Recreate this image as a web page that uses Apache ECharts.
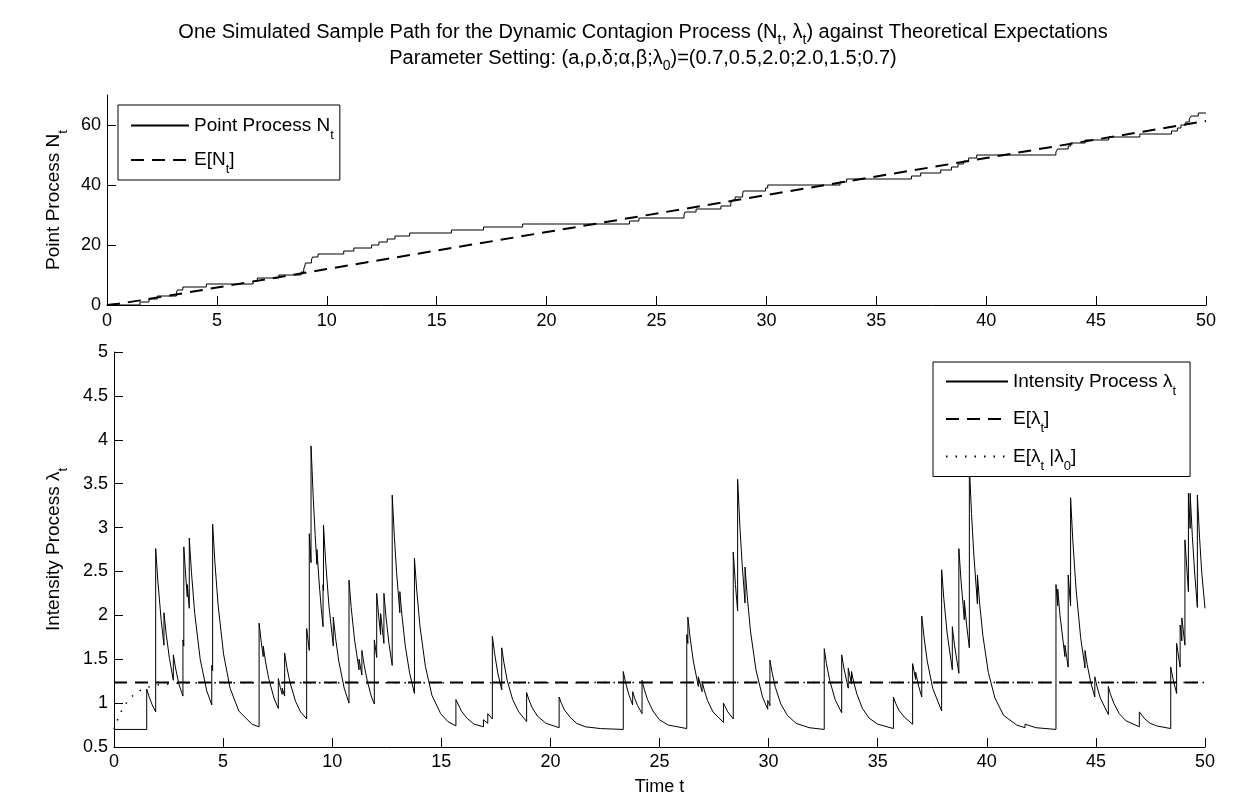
<!DOCTYPE html>
<html>
<head>
<meta charset="utf-8">
<title>Dynamic Contagion Process</title>
<script src="https://cdn.jsdelivr.net/npm/echarts@6.0.0/dist/echarts.min.js"></script>
<style>
  html, body { margin: 0; padding: 0; background: #fff; }
  #chart { width: 1242px; height: 795px; }
</style>
</head>
<body>
<div id="chart"></div>
<script>
// point process N_t: [jump time, count after the jump]
var countPath = [
  [0, 0], [1.50, 1], [1.91, 2], [2.29, 3], [3.16, 4], [3.20, 5], [3.45, 6], [4.52, 7],
  [6.65, 8], [6.84, 9], [7.82, 10], [8.83, 11], [8.95, 12], [9.00, 13], [9.03, 14],
  [9.30, 15], [9.35, 16], [9.60, 17], [10.77, 18], [11.23, 19], [12.04, 20], [12.37, 21],
  [12.75, 22], [13.10, 23], [13.77, 24], [15.67, 25], [17.13, 26], [18.91, 27], [23.77, 28],
  [24.20, 29], [26.25, 30], [26.30, 31], [26.80, 32], [27.93, 33], [28.38, 34], [28.45, 35],
  [28.58, 36], [28.92, 37], [28.95, 38], [29.96, 39], [30.06, 40], [33.35, 41], [33.65, 42],
  [36.60, 43], [37.02, 44], [37.93, 45], [38.42, 46], [38.72, 47], [38.97, 48], [39.20, 49],
  [39.57, 50], [43.17, 51], [43.25, 52], [43.73, 53], [43.84, 54], [44.50, 55], [45.57, 56],
  [46.99, 57], [48.43, 58], [48.70, 59], [48.86, 60], [49.08, 61], [49.24, 62], [49.32, 63],
  [49.65, 64], [50, 64]
];

// E[N_t]
var countMean = [
  [0, 0], [0.5, 0.43], [1, 0.96], [1.5, 1.54], [2, 2.13], [3, 3.35], [4, 4.58], [5, 5.81],
  [10, 11.98], [20, 24.32], [30, 36.66], [40, 49.0], [50, 61.34]
];

// intensity process lambda_t (jumps are two points at the same time)
var intensityPath = [
  [0, 0.70], [1.50, 0.70],
  [1.50, 1.16], [1.60, 1.08], [1.75, 0.98], [1.91, 0.90],
  [1.91, 2.76], [2.01, 2.39], [2.16, 1.95], [2.29, 1.66],
  [2.29, 2.03], [2.39, 1.79], [2.54, 1.51], [2.72, 1.26],
  [2.72, 1.55], [2.82, 1.40], [2.97, 1.22], [3.16, 1.08],
  [3.16, 1.72], [3.20, 1.65],
  [3.20, 2.78], [3.28, 2.47], [3.36, 2.21],
  [3.36, 2.35], [3.45, 2.08],
  [3.45, 2.88], [3.55, 2.49], [3.70, 2.02], [3.95, 1.50], [4.25, 1.14], [4.48, 0.98],
  [4.48, 1.43], [4.52, 1.37],
  [4.52, 3.04], [4.62, 2.62], [4.77, 2.12], [5.02, 1.56], [5.32, 1.17], [5.72, 0.91], [6.32, 0.76], [6.65, 0.73],
  [6.65, 1.91], [6.75, 1.69], [6.84, 1.53],
  [6.84, 1.65], [6.94, 1.48], [7.09, 1.28], [7.34, 1.05], [7.53, 0.94],
  [7.53, 1.28], [7.62, 1.18], [7.71, 1.10],
  [7.71, 1.17], [7.82, 1.08],
  [7.82, 1.57], [7.92, 1.41], [8.07, 1.23], [8.32, 1.02], [8.55, 0.90], [8.83, 0.82],
  [8.83, 1.85], [8.95, 1.60],
  [8.95, 2.93], [9.03, 2.60],
  [9.03, 3.93], [9.13, 3.35], [9.22, 2.91], [9.30, 2.58],
  [9.30, 2.75], [9.40, 2.38], [9.50, 2.07], [9.58, 1.87],
  [9.58, 2.35], [9.60, 2.28],
  [9.60, 3.03], [9.70, 2.61], [9.85, 2.11], [10.05, 1.65],
  [10.05, 1.98], [10.15, 1.75], [10.30, 1.48], [10.55, 1.17], [10.77, 1.00],
  [10.77, 2.40], [10.87, 2.09], [11.02, 1.73], [11.23, 1.38],
  [11.23, 1.50], [11.36, 1.32],
  [11.36, 1.60], [11.46, 1.44], [11.61, 1.25], [11.80, 1.07], [11.93, 0.99],
  [11.93, 1.72], [12.04, 1.52],
  [12.04, 2.25], [12.13, 1.99], [12.22, 1.78],
  [12.22, 2.02], [12.37, 1.68],
  [12.37, 2.25], [12.47, 1.97], [12.60, 1.68], [12.75, 1.43],
  [12.75, 3.37], [12.85, 2.89], [12.95, 2.49], [13.10, 2.03],
  [13.10, 2.27], [13.20, 1.99], [13.35, 1.65], [13.55, 1.34], [13.77, 1.11],
  [13.77, 2.65], [13.87, 2.30], [14.02, 1.88], [14.27, 1.42], [14.57, 1.09], [14.97, 0.88], [15.30, 0.79], [15.67, 0.74],
  [15.67, 1.04], [15.92, 0.91], [16.17, 0.83], [16.50, 0.76], [16.93, 0.73],
  [16.93, 0.81], [17.13, 0.77],
  [17.13, 0.88], [17.34, 0.82],
  [17.34, 1.76], [17.44, 1.57], [17.59, 1.34], [17.77, 1.15],
  [17.77, 1.63], [17.87, 1.46], [18.02, 1.26], [18.27, 1.04], [18.55, 0.90], [18.91, 0.79],
  [18.91, 1.12], [19.01, 1.04], [19.16, 0.95], [19.41, 0.85], [19.80, 0.77], [20.40, 0.72],
  [20.40, 1.07], [20.50, 1.00], [20.65, 0.92], [20.90, 0.84], [21.20, 0.77], [21.60, 0.73], [22.30, 0.71], [23.34, 0.70],
  [23.34, 1.36], [23.44, 1.24], [23.59, 1.10], [23.77, 0.98],
  [23.77, 1.13], [23.87, 1.05], [24.00, 0.97], [24.20, 0.88],
  [24.20, 1.26], [24.30, 1.16], [24.45, 1.04], [24.70, 0.91], [25.00, 0.81], [25.40, 0.75], [26.25, 0.71],
  [26.25, 1.78], [26.30, 1.68],
  [26.30, 1.98], [26.40, 1.75], [26.55, 1.48], [26.78, 1.19],
  [26.78, 1.30], [26.95, 1.13],
  [26.95, 1.25], [27.05, 1.15], [27.20, 1.03], [27.45, 0.90], [27.93, 0.78],
  [27.93, 1.00], [28.13, 0.90], [28.38, 0.82],
  [28.38, 2.72], [28.48, 2.35], [28.58, 2.05],
  [28.58, 3.55], [28.68, 3.03], [28.78, 2.61], [28.92, 2.14],
  [28.92, 2.55], [29.02, 2.22], [29.17, 1.82], [29.42, 1.38], [29.72, 1.07], [29.96, 0.93],
  [29.96, 1.03], [30.06, 0.97],
  [30.06, 1.49], [30.16, 1.35], [30.31, 1.18], [30.56, 0.99], [30.86, 0.86], [31.26, 0.77], [31.86, 0.72], [32.55, 0.70],
  [32.55, 1.62], [32.65, 1.45], [32.80, 1.26], [33.05, 1.04], [33.35, 0.89],
  [33.35, 1.55], [33.45, 1.40], [33.65, 1.17],
  [33.65, 1.40], [33.80, 1.22],
  [33.80, 1.36], [33.90, 1.24], [34.05, 1.10], [34.30, 0.94], [34.60, 0.83], [35.00, 0.76], [35.72, 0.71],
  [35.72, 1.07], [35.82, 1.00], [35.97, 0.92], [36.22, 0.84], [36.60, 0.76],
  [36.60, 1.45], [36.74, 1.27],
  [36.74, 1.35], [36.88, 1.19], [37.02, 1.07],
  [37.02, 1.99], [37.12, 1.76], [37.27, 1.48], [37.52, 1.17], [37.93, 0.91],
  [37.93, 2.52], [38.03, 2.19], [38.18, 1.80], [38.42, 1.38],
  [38.42, 1.87], [38.52, 1.66], [38.72, 1.34],
  [38.72, 2.76], [38.82, 2.39], [38.97, 1.95],
  [38.97, 2.17], [39.07, 1.90], [39.20, 1.63],
  [39.20, 3.70], [39.30, 3.16], [39.40, 2.71], [39.57, 2.13],
  [39.57, 2.46], [39.67, 2.14], [39.82, 1.77], [40.07, 1.35], [40.37, 1.06], [40.77, 0.86], [41.37, 0.75], [41.75, 0.72],
  [41.75, 0.76], [42.25, 0.72], [43.17, 0.70],
  [43.17, 2.35], [43.25, 2.11],
  [43.25, 2.30], [43.35, 2.01], [43.58, 1.53],
  [43.58, 1.66], [43.73, 1.41],
  [43.73, 2.46], [43.84, 2.11],
  [43.84, 3.34], [43.94, 2.86], [44.09, 2.30], [44.30, 1.75], [44.50, 1.40],
  [44.50, 1.60], [44.60, 1.44], [44.75, 1.25], [44.95, 1.07],
  [44.95, 1.30], [45.05, 1.19], [45.20, 1.06], [45.57, 0.87],
  [45.57, 1.19], [45.67, 1.10], [45.82, 1.00], [46.07, 0.88], [46.37, 0.80], [46.99, 0.73],
  [46.99, 0.90], [47.24, 0.82], [47.49, 0.77], [47.79, 0.74], [48.43, 0.71],
  [48.43, 1.41], [48.53, 1.28], [48.70, 1.11],
  [48.70, 1.68], [48.86, 1.41],
  [48.86, 1.89], [48.94, 1.71],
  [48.94, 1.97], [49.08, 1.66],
  [49.08, 2.86], [49.24, 2.27],
  [49.24, 3.39], [49.32, 2.99],
  [49.32, 3.39], [49.42, 2.90], [49.53, 2.47], [49.65, 2.09],
  [49.65, 3.37], [49.75, 2.89], [49.85, 2.49], [50.00, 2.08]
];

// E[lambda_t] (stationary level)
var intensityMean = [[0, 1.234], [50, 1.234]];

// E[lambda_t | lambda_0]
var intensityCond = [
  [0, 0.70], [0.25, 0.87], [0.5, 0.98], [0.75, 1.06], [1, 1.115], [1.25, 1.15],
  [1.5, 1.178], [2, 1.207], [3, 1.228], [4, 1.233], [50, 1.234]
];

var topTicks = [0, 20, 40, 60];

var font = '"Liberation Sans", Arial, Helvetica, sans-serif';

var rich = {
  m: { fontSize: 19, lineHeight: 32, fontFamily: font, color: '#000' },
  s: { fontSize: 13, lineHeight: 7, verticalAlign: 'bottom', fontFamily: font, color: '#000' }
};
var titleRich = {
  m: { fontSize: 20, lineHeight: 30, fontWeight: 'normal', fontFamily: font, color: '#000' },
  s: { fontSize: 14, lineHeight: 7, verticalAlign: 'bottom', fontWeight: 'normal', fontFamily: font, color: '#000' }
};

var legendText = {
  'Point Process Nt': '{m|Point Process N}{s|t}',
  'E[Nt]': '{m|E[N}{s|t}{m|]}',
  'Intensity Process λt': '{m|Intensity Process λ}{s|t}',
  'E[λt]': '{m|E[λ}{s|t}{m|]}',
  'E[λt|λ0]': '{m|E[λ}{s|t}{m| |λ}{s|0}{m|]}'
};

var axisCommon = {
  type: 'value',
  axisLine: { show: true, onZero: false, lineStyle: { color: '#000', width: 1 } },
  axisTick: { show: true, inside: true, length: 9, lineStyle: { color: '#000', width: 1 } },
  splitLine: { show: false }
};
var labelStyle = { color: '#000', fontSize: 18, fontFamily: font };

function legendBox(items, left, top, padding, width, gap, textGap) {
  return {
    data: items,
    orient: 'vertical',
    left: left,
    top: top,
    padding: padding,
    itemWidth: width,
    itemHeight: 14,
    itemGap: gap,
    itemTextGap: textGap,
    backgroundColor: '#fff',
    borderColor: '#000',
    borderWidth: 1,
    borderRadius: 0,
    selectedMode: false,
    // hide the marker that line series put in the middle of the legend line
    itemStyle: { color: 'rgba(0,0,0,0)', borderColor: 'rgba(0,0,0,0)', borderWidth: 0, opacity: 0 },
    textStyle: { rich: rich },
    formatter: function (name) { return legendText[name]; }
  };
}

var chart = echarts.init(document.getElementById('chart'));

chart.setOption({
  animation: false,
  backgroundColor: '#fff',
  textStyle: { fontFamily: font },
  title: [
    {
      text: '{m|One Simulated Sample Path for the Dynamic Contagion Process (N}{s|t}{m|, λ}{s|t}{m|) against Theoretical Expectations}',
      left: 638, top: 12, textAlign: 'center',
      textStyle: { fontWeight: 'normal', rich: titleRich }
    },
    {
      text: '{m|Parameter Setting: (a,ρ,δ;α,β;λ}{s|0}{m|)=(0.7,0.5,2.0;2.0,1.5;0.7)}',
      left: 638, top: 38, textAlign: 'center',
      textStyle: { fontWeight: 'normal', rich: titleRich }
    }
  ],
  legend: [
    legendBox(['Point Process Nt', 'E[Nt]'], 118, 105, [11, 6, 4, 12], 58, 9, 8),
    legendBox(['Intensity Process λt', 'E[λt]', 'E[λt|λ0]'], 933, 362, [10, 14, 4, 12], 62, 12, 10)
  ],
  grid: [
    { left: 107, right: 36, top: 95, height: 210, outerBoundsMode: 'none' },
    { left: 114, right: 37, top: 352, height: 395, outerBoundsMode: 'none' }
  ],
  xAxis: [
    Object.assign({}, axisCommon, {
      gridIndex: 0, min: 0, max: 50, interval: 5,
      axisLabel: Object.assign({ margin: 7 }, labelStyle)
    }),
    Object.assign({}, axisCommon, {
      gridIndex: 1, min: 0, max: 50, interval: 5,
      axisLabel: Object.assign({ margin: 6 }, labelStyle),
      name: 'Time t', nameLocation: 'middle', nameGap: 31,
      nameTextStyle: labelStyle
    })
  ],
  yAxis: [
    Object.assign({}, axisCommon, {
      gridIndex: 0, min: 0, max: 70, interval: 20,
      axisTick: { show: true, inside: true, length: 9, customValues: topTicks, lineStyle: { color: '#000' } },
      axisLabel: Object.assign({ margin: 6, customValues: topTicks }, labelStyle),
      name: '{m|Point Process N}{s|t}', nameLocation: 'middle', nameRotate: 90, nameGap: 29,
      nameTextStyle: { rich: rich }
    }),
    Object.assign({}, axisCommon, {
      gridIndex: 1, min: 0.5, max: 5, interval: 0.5,
      axisLabel: Object.assign({ margin: 6 }, labelStyle),
      name: '{m|Intensity Process λ}{s|t}', nameLocation: 'middle', nameRotate: 90, nameGap: 44,
      nameTextStyle: { rich: rich }
    })
  ],
  series: [
    {
      name: 'Point Process Nt', type: 'line', xAxisIndex: 0, yAxisIndex: 0,
      data: countPath, step: 'end', symbol: 'none',
      itemStyle: { color: '#000' },
      lineStyle: { color: '#000', width: 1 }
    },
    {
      name: 'E[Nt]', type: 'line', xAxisIndex: 0, yAxisIndex: 0,
      data: countMean, symbol: 'none',
      itemStyle: { color: '#000' },
      lineStyle: { color: '#000', width: 2, type: [13, 8] }
    },
    {
      name: 'Intensity Process λt', type: 'line', xAxisIndex: 1, yAxisIndex: 1,
      data: intensityPath, symbol: 'none',
      itemStyle: { color: '#000' },
      lineStyle: { color: '#000', width: 1 }
    },
    {
      name: 'E[λt]', type: 'line', xAxisIndex: 1, yAxisIndex: 1,
      data: intensityMean, symbol: 'none',
      itemStyle: { color: '#000' },
      lineStyle: { color: '#000', width: 2, type: [13, 8] }
    },
    {
      name: 'E[λt|λ0]', type: 'line', xAxisIndex: 1, yAxisIndex: 1,
      data: intensityCond, symbol: 'none',
      itemStyle: { color: '#000' },
      lineStyle: { color: '#000', width: 1.5, type: [1.5, 8] }
    }
  ]
});
</script>
</body>
</html>
